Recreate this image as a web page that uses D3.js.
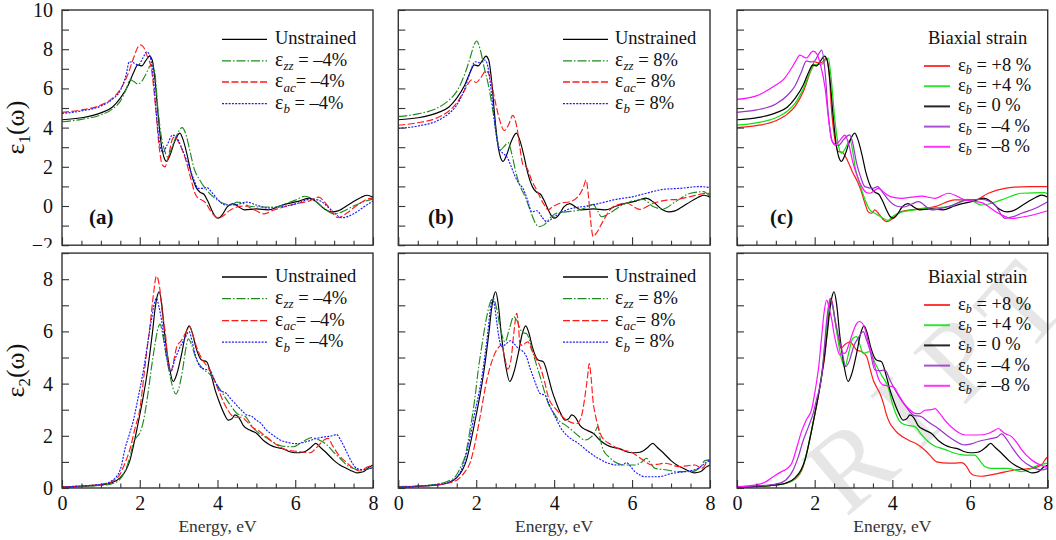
<!DOCTYPE html>
<html>
<head>
<meta charset="utf-8">
<script src="https://cdn.jsdelivr.net/npm/d3@7"></script>
<style>
  body { margin: 0; background: #fff; }
  svg { display: block; }
  text { font-family: "Liberation Serif", "Times New Roman", serif; }
</style>
</head>
<body>
<svg id="chart" width="1056" height="540"></svg>
<script>
// ---------- axis ticks ----------
const energyMajor = [0, 2, 4, 6, 8];
const eps1Labels = [-2, 0, 2, 4, 6, 8, 10];
const eps2Labels = [0, 2, 4, 6, 8];

// ---------- real part ε1(ω), [energy eV, value] ----------
const eps1_unstrained = [[0,4.40],[0.5,4.50],[1.0,4.75],[1.3,5.05],[1.5,5.5],[1.7,6.15],[1.85,6.85],[1.95,7.2],[2.05,7.15],[2.15,7.4],[2.25,7.65],[2.32,7.45],[2.4,6.3],[2.47,4.7],[2.55,3.2],[2.62,2.5],[2.69,2.28],[2.78,2.6],[2.9,3.3],[3.03,3.72],[3.12,3.35],[3.22,2.6],[3.32,1.7],[3.45,0.95],[3.55,0.7],[3.65,0.6],[3.75,0.25],[3.85,-0.2],[3.95,-0.55],[4.02,-0.62],[4.12,-0.45],[4.25,-0.05],[4.4,0.12],[4.55,-0.05],[4.7,-0.2],[5.0,-0.15],[5.3,-0.2],[5.6,0.0],[5.8,0.12],[6.1,0.25],[6.35,0.4],[6.55,0.2],[6.75,-0.15],[6.95,-0.3],[7.1,-0.25],[7.4,0.1],[7.7,0.45],[7.85,0.55],[8.0,0.45]];
const eps1_zz_m4 = [[0,4.30],[0.5,4.42],[1.0,4.65],[1.3,4.95],[1.5,5.35],[1.65,5.95],[1.75,6.45],[1.85,6.35],[1.95,6.22],[2.05,6.35],[2.15,6.7],[2.3,7.2],[2.38,6.9],[2.47,4.9],[2.55,3.6],[2.63,2.9],[2.72,2.5],[2.82,2.95],[2.95,3.6],[3.09,4.0],[3.18,3.7],[3.28,2.9],[3.4,1.9],[3.55,1.3],[3.72,0.82],[3.9,0.45],[4.0,0.3],[4.2,0.1],[4.35,0.05],[4.5,0.2],[4.6,0.18],[4.8,0.0],[5.1,-0.05],[5.5,-0.05],[5.8,0.15],[6.0,0.3],[6.25,0.5],[6.45,0.35],[6.7,-0.05],[7.0,-0.4],[7.2,-0.3],[7.5,0.0],[7.8,0.25],[8.0,0.35]];
const eps1_ac_m4 = [[0,4.78],[0.5,4.9],[1.0,5.15],[1.3,5.5],[1.5,5.95],[1.7,6.75],[1.85,7.6],[1.95,8.1],[2.02,8.22],[2.1,8.1],[2.2,7.6],[2.3,7.0],[2.4,5.2],[2.5,3.0],[2.58,2.1],[2.65,2.0],[2.72,2.4],[2.85,3.45],[2.9,3.52],[3.0,3.25],[3.16,2.5],[3.3,1.5],[3.42,0.65],[3.5,0.4],[3.6,0.3],[3.7,0.15],[3.82,-0.25],[3.93,-0.5],[4.02,-0.62],[4.15,-0.5],[4.3,-0.25],[4.5,-0.05],[4.7,0.0],[4.95,-0.2],[5.2,-0.4],[5.45,-0.2],[5.8,0.0],[6.1,0.15],[6.35,0.25],[6.6,0.45],[6.8,0.1],[7.0,-0.45],[7.1,-0.6],[7.3,-0.4],[7.6,0.05],[7.85,0.35],[8.0,0.4]];
const eps1_b_m4 = [[0,4.72],[0.5,4.85],[1.0,5.1],[1.3,5.45],[1.5,5.9],[1.65,6.7],[1.73,7.36],[1.85,7.3],[1.96,7.19],[2.08,7.55],[2.18,7.87],[2.27,7.6],[2.36,6.3],[2.45,4.2],[2.53,3.0],[2.6,2.75],[2.7,3.1],[2.85,3.62],[2.95,3.5],[3.1,2.85],[3.25,2.1],[3.4,1.3],[3.5,0.9],[3.63,0.9],[3.72,0.95],[3.85,0.7],[4.0,0.35],[4.2,0.05],[4.45,0.05],[4.75,0.2],[5.0,0.05],[5.3,-0.1],[5.6,-0.05],[6.0,0.1],[6.4,0.35],[6.6,0.3],[6.9,-0.15],[7.2,-0.6],[7.5,-0.4],[7.8,0.0],[8.0,0.25]];
const eps1_zz_p8 = [[0,4.56],[0.5,4.7],[1.0,5.0],[1.3,5.4],[1.5,5.85],[1.7,6.7],[1.85,7.6],[1.95,8.25],[2.01,8.42],[2.1,8.0],[2.2,7.1],[2.32,6.1],[2.45,4.56],[2.55,3.3],[2.62,2.86],[2.72,3.05],[2.82,3.23],[2.92,2.6],[3.02,1.7],[3.13,1.0],[3.25,0.5],[3.4,-0.3],[3.5,-0.8],[3.6,-1.05],[3.75,-0.95],[3.9,-0.6],[4.06,-0.37],[4.3,-0.3],[4.66,-0.2],[4.9,0.0],[5.0,0.08],[5.1,-0.2],[5.22,-0.55],[5.4,-0.4],[5.7,0.0],[5.95,0.22],[6.29,0.34],[6.54,-0.03],[6.8,-0.15],[7.1,0.2],[7.5,0.65],[7.83,0.73],[8.0,0.48]];
const eps1_ac_p8 = [[0,4.12],[0.5,4.25],[1.0,4.5],[1.3,4.85],[1.5,5.25],[1.7,5.9],[1.88,6.43],[2.0,6.3],[2.1,6.5],[2.25,6.89],[2.35,6.6],[2.48,5.4],[2.6,4.4],[2.72,3.85],[2.82,4.1],[2.94,4.62],[3.04,4.05],[3.12,3.0],[3.2,2.1],[3.3,1.95],[3.42,1.33],[3.55,0.82],[3.72,0.14],[3.85,-0.2],[3.95,-0.05],[4.15,0.14],[4.4,0.22],[4.6,0.45],[4.75,0.95],[4.82,1.33],[4.88,0.5],[4.95,-1.0],[5.0,-1.56],[5.08,-1.4],[5.18,-1.05],[5.35,-0.45],[5.52,-0.03],[5.86,0.14],[6.2,-0.17],[6.54,0.14],[6.89,0.3],[7.2,0.35],[7.49,0.48],[7.96,0.65],[8.0,0.6]];
const eps1_b_p8 = [[0,3.96],[0.5,4.08],[1.0,4.35],[1.3,4.72],[1.5,5.15],[1.7,5.95],[1.85,6.85],[1.97,7.36],[2.1,7.3],[2.22,7.45],[2.3,7.1],[2.4,5.6],[2.5,3.8],[2.58,2.94],[2.68,2.7],[2.79,2.5],[2.9,2.0],[3.0,1.5],[3.09,1.16],[3.2,0.9],[3.3,0.4],[3.43,-0.3],[3.56,-0.24],[3.7,-0.6],[3.81,-0.8],[4.0,-0.55],[4.32,-0.2],[4.83,0.0],[5.2,0.15],[5.52,0.31],[6.03,0.48],[6.37,0.65],[6.8,0.85],[7.23,0.9],[7.74,0.99],[8.0,0.94]];
const eps1_bi_p8 = [[0,4.0],[0.5,4.1],[1.0,4.35],[1.3,4.7],[1.5,5.1],[1.7,5.8],[1.9,6.9],[2.0,7.36],[2.1,7.3],[2.2,7.35],[2.3,7.53],[2.37,6.8],[2.44,4.73],[2.52,3.4],[2.61,2.77],[2.7,2.75],[2.85,2.3],[2.97,1.75],[3.1,1.25],[3.2,0.75],[3.3,0.1],[3.38,-0.3],[3.46,-0.37],[3.55,-0.2],[3.65,-0.4],[3.77,-0.7],[3.85,-0.8],[4.02,-0.63],[4.2,-0.3],[4.58,-0.17],[5.1,-0.03],[5.61,0.31],[6.13,0.31],[6.47,0.65],[6.9,0.9],[7.5,0.99],[8.0,0.99]];
const eps1_bi_p4 = [[0,4.13],[0.5,4.24],[1.0,4.5],[1.3,4.85],[1.5,5.25],[1.7,5.95],[1.9,6.9],[2.0,7.2],[2.1,7.22],[2.2,7.25],[2.3,7.5],[2.35,7.55],[2.42,6.6],[2.52,4.39],[2.6,3.2],[2.69,2.69],[2.78,2.9],[2.91,3.36],[2.98,2.8],[3.04,2.0],[3.12,1.4],[3.21,0.82],[3.32,0.2],[3.42,-0.2],[3.55,-0.37],[3.7,-0.55],[3.89,-0.73],[4.0,-0.55],[4.2,-0.34],[4.58,-0.2],[5.0,-0.1],[5.44,-0.03],[5.95,0.34],[6.3,0.05],[6.81,0.31],[7.33,0.65],[7.93,0.68],[8.0,0.6]];
const eps1_bi_m4 = [[0,4.78],[0.5,4.9],[1.0,5.2],[1.3,5.65],[1.5,6.15],[1.65,6.8],[1.79,7.4],[1.9,7.35],[2.0,7.4],[2.1,7.75],[2.18,7.95],[2.27,6.8],[2.35,4.7],[2.45,3.3],[2.61,3.09],[2.75,3.4],[2.9,3.63],[2.97,3.3],[3.08,2.18],[3.18,1.5],[3.29,0.99],[3.5,0.9],[3.62,0.99],[3.75,0.7],[3.9,0.31],[4.1,0.0],[4.3,-0.05],[4.5,0.1],[4.67,0.22],[5.01,-0.2],[5.44,-0.03],[5.95,0.31],[6.3,0.34],[6.64,0.05],[6.9,-0.63],[7.1,-0.55],[7.33,-0.37],[7.7,-0.1],[8.0,0.22]];
const eps1_bi_m8 = [[0,5.44],[0.5,5.62],[1.0,6.17],[1.2,6.46],[1.4,7.02],[1.5,7.35],[1.62,7.7],[1.78,7.55],[1.96,7.9],[2.06,7.75],[2.15,7.2],[2.27,6.0],[2.35,4.56],[2.44,3.37],[2.52,3.11],[2.65,3.35],[2.78,3.62],[2.87,3.2],[2.99,2.18],[3.1,1.5],[3.21,1.0],[3.32,0.7],[3.42,0.65],[3.55,0.8],[3.64,0.9],[3.81,0.65],[3.95,0.48],[4.24,0.39],[4.5,0.45],[4.75,0.5],[5.1,0.39],[5.44,0.65],[5.87,0.31],[6.3,0.17],[6.73,-0.37],[7.07,-0.63],[7.5,-0.51],[8.0,-0.24]];

// ---------- imaginary part ε2(ω), [energy eV, value] ----------
const eps2_unstrained = [[0,0.03],[0.5,0.06],[1.0,0.12],[1.25,0.18],[1.5,0.4],[1.65,0.7],[1.75,1.07],[1.85,1.7],[1.92,2.2],[2.0,2.8],[2.09,3.5],[2.18,4.3],[2.26,5.16],[2.33,6.0],[2.39,6.82],[2.45,7.35],[2.5,7.52],[2.56,7.1],[2.65,5.8],[2.76,4.65],[2.86,4.08],[2.96,4.4],[3.08,5.16],[3.18,5.9],[3.27,6.21],[3.35,5.95],[3.44,5.41],[3.59,4.9],[3.72,4.84],[3.85,4.26],[3.95,3.7],[4.06,3.24],[4.17,2.85],[4.28,2.6],[4.37,2.65],[4.45,2.8],[4.55,2.7],[4.66,2.4],[4.83,2.22],[5.0,2.1],[5.2,1.8],[5.35,1.65],[5.52,1.55],[5.69,1.5],[5.86,1.39],[6.0,1.35],[6.2,1.37],[6.4,1.55],[6.53,1.71],[6.65,1.55],[6.8,1.35],[7.0,1.05],[7.15,0.88],[7.32,0.75],[7.49,0.63],[7.6,0.58],[7.75,0.62],[7.9,0.8],[8.0,0.88]];
const eps2_zz_m4 = [[0,0.03],[0.5,0.06],[1.0,0.1],[1.25,0.15],[1.5,0.35],[1.65,0.75],[1.75,1.2],[1.85,1.8],[1.92,1.95],[2.0,2.1],[2.1,2.6],[2.2,3.5],[2.3,4.6],[2.38,5.4],[2.45,6.0],[2.52,6.28],[2.6,5.8],[2.69,5.0],[2.8,4.15],[2.93,3.6],[3.0,3.8],[3.1,4.5],[3.18,5.3],[3.25,5.72],[3.33,5.5],[3.42,5.07],[3.59,4.62],[3.8,4.36],[4.06,3.79],[4.32,3.2],[4.53,2.83],[4.7,2.76],[4.92,2.3],[5.26,1.92],[5.69,1.6],[5.95,1.58],[6.2,1.78],[6.42,1.93],[6.6,1.85],[6.8,1.67],[7.0,1.35],[7.15,1.14],[7.35,0.85],[7.5,0.75],[7.66,0.69],[7.85,0.73],[8.0,0.78]];
const eps2_ac_m4 = [[0,0.04],[0.5,0.08],[1.0,0.14],[1.25,0.22],[1.5,0.55],[1.62,0.95],[1.75,1.5],[1.88,2.3],[2.0,3.0],[2.1,4.2],[2.18,5.22],[2.27,6.3],[2.35,7.39],[2.43,8.12],[2.52,7.59],[2.58,6.7],[2.65,6.05],[2.72,5.0],[2.8,4.46],[2.87,4.85],[2.95,5.4],[3.08,5.67],[3.18,5.95],[3.29,6.18],[3.37,5.85],[3.46,5.41],[3.58,5.0],[3.68,4.77],[3.8,4.52],[3.93,4.1],[4.06,3.62],[4.17,3.25],[4.27,2.97],[4.45,2.71],[4.62,2.71],[4.75,2.55],[4.92,2.3],[5.05,2.2],[5.18,2.05],[5.35,1.85],[5.52,1.66],[5.7,1.5],[5.86,1.43],[6.05,1.4],[6.2,1.38],[6.38,1.35],[6.55,1.55],[6.75,1.85],[6.85,1.9],[6.95,1.65],[7.1,1.3],[7.3,1.0],[7.5,0.75],[7.65,0.65],[7.85,0.8],[8.0,0.88]];
const eps2_b_m4 = [[0,0.04],[0.5,0.08],[1.0,0.14],[1.25,0.25],[1.5,0.7],[1.62,1.5],[1.72,2.0],[1.83,2.55],[1.95,3.4],[2.09,4.47],[2.2,5.5],[2.3,6.44],[2.38,7.1],[2.43,7.27],[2.5,6.9],[2.56,6.44],[2.64,5.5],[2.72,4.8],[2.8,4.46],[2.9,4.9],[3.02,5.35],[3.15,5.7],[3.27,5.99],[3.35,5.6],[3.42,5.16],[3.55,4.65],[3.68,4.55],[3.8,4.52],[3.93,4.1],[4.06,3.75],[4.23,3.62],[4.35,3.4],[4.45,3.24],[4.6,3.0],[4.75,2.8],[4.88,2.75],[5.0,2.6],[5.1,2.5],[5.26,2.22],[5.45,2.0],[5.61,1.84],[5.8,1.75],[6.03,1.7],[6.3,1.78],[6.55,1.9],[6.8,1.97],[6.95,2.0],[7.06,2.05],[7.18,1.8],[7.32,1.39],[7.45,1.0],[7.58,0.75],[7.75,0.7],[8.0,0.78]];
const eps2_zz_p8 = [[0,0.05],[0.5,0.08],[1.0,0.15],[1.25,0.25],[1.46,0.43],[1.6,0.8],[1.71,1.2],[1.84,2.22],[1.97,3.49],[2.05,4.5],[2.14,5.41],[2.27,6.56],[2.35,7.07],[2.44,7.27],[2.52,6.9],[2.61,6.18],[2.74,5.6],[2.85,6.1],[2.96,6.56],[3.05,6.4],[3.12,6.12],[3.2,5.95],[3.29,5.92],[3.38,5.6],[3.46,5.16],[3.55,4.7],[3.64,4.27],[3.75,3.7],[3.85,3.24],[4.0,2.85],[4.11,2.6],[4.3,2.4],[4.45,2.22],[4.62,2.0],[4.79,1.84],[4.96,1.97],[5.05,2.15],[5.12,2.35],[5.18,1.9],[5.26,1.46],[5.4,1.2],[5.56,1.0],[5.82,0.88],[6.07,0.88],[6.25,1.0],[6.37,1.14],[6.47,0.95],[6.59,0.75],[6.85,0.7],[7.19,0.63],[7.53,0.63],[7.75,0.8],[7.87,1.05],[8.0,1.08]];
const eps2_ac_p8 = [[0,0.03],[0.5,0.06],[1.0,0.12],[1.25,0.18],[1.5,0.3],[1.7,0.6],[1.85,1.0],[1.97,1.71],[2.1,2.73],[2.27,4.13],[2.38,4.75],[2.48,5.16],[2.58,5.4],[2.65,5.48],[2.73,5.0],[2.81,4.55],[2.9,5.0],[2.97,6.0],[3.04,6.69],[3.08,6.3],[3.12,5.54],[3.2,5.45],[3.25,5.54],[3.33,5.6],[3.42,5.3],[3.51,5.03],[3.64,4.65],[3.75,4.1],[3.85,3.49],[4.07,2.98],[4.32,2.6],[4.58,2.47],[4.7,2.75],[4.78,3.4],[4.86,4.3],[4.9,4.77],[4.95,4.2],[5.0,3.3],[5.05,2.85],[5.14,2.3],[5.22,1.97],[5.48,1.65],[5.73,1.46],[5.95,1.39],[6.16,1.2],[6.35,1.0],[6.5,0.88],[6.7,0.92],[6.85,0.95],[7.0,0.9],[7.19,0.82],[7.4,0.85],[7.62,0.88],[7.79,0.75],[7.96,1.02],[8.0,1.0]];
const eps2_b_p8 = [[0,0.04],[0.5,0.07],[1.0,0.13],[1.25,0.2],[1.5,0.4],[1.71,1.1],[1.85,2.0],[1.95,2.8],[2.05,3.49],[2.15,4.3],[2.23,5.16],[2.3,6.0],[2.35,6.7],[2.42,7.22],[2.48,6.9],[2.52,6.44],[2.58,5.8],[2.65,5.41],[2.75,5.5],[2.87,5.64],[2.96,5.55],[3.04,5.41],[3.12,5.3],[3.21,5.22],[3.29,5.03],[3.38,4.6],[3.46,4.27],[3.55,3.9],[3.64,3.62],[3.77,3.55],[3.86,3.25],[3.94,2.98],[4.05,2.65],[4.15,2.35],[4.36,1.97],[4.62,1.71],[4.88,1.39],[5.13,1.14],[5.39,0.95],[5.6,0.88],[5.73,0.88],[5.86,0.97],[5.95,0.85],[6.07,0.63],[6.2,0.5],[6.33,0.43],[6.67,0.43],[7.02,0.56],[7.36,0.63],[7.7,0.75],[7.87,0.95],[8.0,1.08]];
const eps2_bi_p8 = [[0,0.03],[0.5,0.06],[1.0,0.12],[1.25,0.18],[1.5,0.35],[1.7,0.8],[1.82,1.5],[1.92,2.22],[2.0,2.8],[2.09,3.49],[2.18,4.3],[2.27,5.16],[2.33,6.2],[2.37,6.82],[2.42,7.27],[2.47,7.0],[2.52,6.44],[2.6,5.8],[2.68,5.35],[2.78,5.5],[2.91,5.6],[3.0,5.45],[3.08,5.29],[3.21,5.22],[3.34,5.03],[3.42,4.6],[3.51,4.13],[3.6,3.85],[3.68,3.62],[3.77,3.24],[3.85,2.8],[3.94,2.47],[4.05,2.25],[4.15,2.09],[4.41,1.84],[4.67,1.65],[4.88,1.39],[5.0,1.2],[5.14,1.0],[5.44,0.95],[5.6,0.95],[5.78,0.97],[5.9,0.85],[6.0,0.6],[6.08,0.5],[6.3,0.45],[6.73,0.56],[7.15,0.69],[7.58,0.75],[7.84,0.88],[7.93,1.08],[8.0,1.2]];
const eps2_bi_p4 = [[0,0.03],[0.5,0.06],[1.0,0.12],[1.25,0.18],[1.5,0.35],[1.7,0.85],[1.82,1.5],[1.92,2.2],[2.0,2.8],[2.1,3.6],[2.2,4.6],[2.3,6.0],[2.35,6.7],[2.4,7.2],[2.47,6.9],[2.56,6.05],[2.68,5.0],[2.78,4.65],[2.88,5.2],[2.98,5.73],[3.08,5.8],[3.16,5.5],[3.25,5.16],[3.34,5.2],[3.42,5.22],[3.55,4.8],[3.72,4.33],[3.9,3.82],[3.98,3.35],[4.07,2.92],[4.24,2.48],[4.4,2.4],[4.58,2.35],[4.75,2.05],[4.92,1.78],[5.1,1.6],[5.27,1.52],[5.45,1.42],[5.61,1.33],[5.8,1.27],[5.95,1.26],[6.12,1.26],[6.25,1.05],[6.38,0.82],[6.55,0.75],[6.73,0.75],[6.98,0.75],[7.15,0.69],[7.33,0.63],[7.5,0.7],[7.67,0.82],[8.0,0.95]];
const eps2_bi_m4 = [[0,0.04],[0.5,0.08],[1.0,0.15],[1.25,0.3],[1.45,0.7],[1.58,1.2],[1.7,1.8],[1.84,2.35],[1.95,2.8],[2.05,3.4],[2.18,4.27],[2.25,5.4],[2.31,6.44],[2.36,7.0],[2.4,7.27],[2.46,7.0],[2.52,6.5],[2.6,5.9],[2.69,5.35],[2.8,4.65],[2.9,4.9],[3.0,5.41],[3.12,5.75],[3.25,5.99],[3.33,5.7],[3.42,5.29],[3.55,4.52],[3.68,4.5],[3.81,4.52],[3.94,4.13],[4.15,3.55],[4.36,3.1],[4.54,2.79],[4.75,2.73],[4.92,2.54],[5.18,2.28],[5.52,1.9],[5.87,1.65],[6.05,1.7],[6.21,1.78],[6.56,1.9],[6.7,1.95],[6.81,2.07],[6.95,1.85],[7.07,1.58],[7.33,1.08],[7.58,0.82],[7.84,0.69],[8.0,0.75]];
const eps2_bi_m8 = [[0,0.05],[0.5,0.12],[0.72,0.22],[0.9,0.4],[1.0,0.5],[1.15,0.63],[1.3,0.75],[1.41,0.95],[1.55,1.6],[1.66,2.16],[1.78,2.6],[1.92,3.0],[2.02,3.8],[2.1,4.6],[2.18,5.8],[2.24,6.7],[2.31,7.2],[2.37,6.9],[2.44,6.44],[2.5,5.9],[2.56,5.48],[2.65,5.09],[2.72,5.18],[2.78,5.16],[2.88,5.5],[2.98,5.95],[3.08,6.3],[3.16,6.38],[3.29,6.12],[3.38,5.6],[3.46,5.16],[3.56,4.6],[3.64,4.2],[3.77,3.94],[3.95,3.9],[4.05,3.85],[4.15,3.6],[4.32,3.2],[4.45,3.0],[4.58,2.86],[4.7,2.85],[4.84,2.98],[5.0,3.0],[5.1,3.04],[5.2,2.9],[5.35,2.6],[5.61,2.22],[5.87,2.03],[6.21,2.03],[6.47,2.09],[6.6,2.18],[6.73,2.28],[6.82,2.18],[6.9,2.09],[7.07,1.97],[7.2,1.75],[7.33,1.46],[7.58,1.08],[7.93,0.82],[8.0,0.8]];

// ---------- legend texts: [symbol, subscript, remainder] ----------
const legendUniaxialNeg = [["Unstrained"], ["ε", "zz", " = –4%"], ["ε", "ac", "= –4%"], ["ε", "b", " = –4%"]];
const legendUniaxialPos = [["Unstrained"], ["ε", "zz", " = 8%"], ["ε", "ac", "= 8%"], ["ε", "b", " = 8%"]];
const legendBiaxial = [["ε", "b", " = +8 %"], ["ε", "b", " = +4 %"], ["ε", "b", " = 0 %"], ["ε", "b", " = –4 %"], ["ε", "b", " = –8 %"]];
const biaxialTitle = "Biaxial strain";
const panelTags = ["(a)", "(b)", "(c)"];
const xTitle = "Energy, eV";

// ---------- styles ----------
const styles = {
  unstrained: { color: "#000000", dash: null,          width: 1.15 },
  zz:         { color: "#1f8a1f", dash: "9,2,1.5,2",   width: 1.15 },
  ac:         { color: "#ff1a1a", dash: "7,2.5",       width: 1.15 },
  b:          { color: "#1a1aff", dash: "2,1.3",       width: 1.15 },
  bp8:        { color: "#ff1a1a", dash: null,          width: 1.2 },
  bp4:        { color: "#10e010", dash: null,          width: 1.2 },
  b0:         { color: "#000000", dash: null,          width: 1.2 },
  bm4:        { color: "#9a32cd", dash: null,          width: 1.2 },
  bm8:        { color: "#ff10ff", dash: null,          width: 1.2 }
};

// ---------- layout ----------
const svg = d3.select("#chart");
const cols = [{ x0: 62, x1: 373 }, { x0: 398.3, x1: 710 }, { x0: 737, x1: 1047.7 }];
const rows = [
  { yt: 10, yb: 245.2, domain: [-2, 10], labels: eps1Labels, sub: "1", legendY: [39.3, 60.8, 82, 103.6], titleY: 44 },
  { yt: 253.1, yb: 488, domain: [0, 9], labels: eps2Labels, sub: "2", legendY: [277, 298.6, 320.6, 342.2], titleY: 283 }
];
const legendX = [
  { l0: 222, l1: 267, tx: 275 },
  { l0: 563, l1: 608, tx: 615 },
  { l0: 924, l1: 950, tx: 958, titleX: 928 }
];
const tagX = [89, 428, 770];

const panels = [
  { col: 0, row: 0, series: [[eps1_unstrained,"unstrained"],[eps1_zz_m4,"zz"],[eps1_ac_m4,"ac"],[eps1_b_m4,"b"]], legend: legendUniaxialNeg, keys: ["unstrained","zz","ac","b"] },
  { col: 1, row: 0, series: [[eps1_unstrained,"unstrained"],[eps1_zz_p8,"zz"],[eps1_ac_p8,"ac"],[eps1_b_p8,"b"]], legend: legendUniaxialPos, keys: ["unstrained","zz","ac","b"] },
  { col: 2, row: 0, series: [[eps1_bi_p8,"bp8"],[eps1_bi_p4,"bp4"],[eps1_unstrained,"b0"],[eps1_bi_m4,"bm4"],[eps1_bi_m8,"bm8"]], legend: legendBiaxial, keys: ["bp8","bp4","b0","bm4","bm8"] },
  { col: 0, row: 1, series: [[eps2_unstrained,"unstrained"],[eps2_zz_m4,"zz"],[eps2_ac_m4,"ac"],[eps2_b_m4,"b"]], legend: legendUniaxialNeg, keys: ["unstrained","zz","ac","b"] },
  { col: 1, row: 1, series: [[eps2_unstrained,"unstrained"],[eps2_zz_p8,"zz"],[eps2_ac_p8,"ac"],[eps2_b_p8,"b"]], legend: legendUniaxialPos, keys: ["unstrained","zz","ac","b"] },
  { col: 2, row: 1, series: [[eps2_bi_p8,"bp8"],[eps2_bi_p4,"bp4"],[eps2_unstrained,"b0"],[eps2_bi_m4,"bm4"],[eps2_bi_m8,"bm8"]], legend: legendBiaxial, keys: ["bp8","bp4","b0","bm4","bm8"] }
];

const FRAME = "#333";
const fmt = d3.format("d");

function styleAxis(a, size) {
  a.select(".domain").remove();
  a.attr("font-family", null).attr("font-size", null);
  a.selectAll(".tick line").attr("stroke", FRAME).attr("stroke-width", 1.1);
  a.selectAll(".tick text")
    .attr("font-family", "'Liberation Serif', 'Times New Roman', serif")
    .attr("font-size", size).attr("fill", "#111");
}

// symbol + italic subscript + remainder (plain text when there is no subscript)
function writeLabel(t, parts, symSize, subSize, subShift) {
  if (parts.length === 1) { t.text(parts[0]); return; }
  t.append("tspan").attr("font-size", symSize).text(parts[0]);
  t.append("tspan").attr("font-style", "italic").attr("font-size", subSize).attr("dy", subShift).text(parts[1]);
  t.append("tspan").attr("dy", -subShift).text(parts[2]);
}

function drawPanel(p, layer) {
  const c = cols[p.col], r = rows[p.row];
  const x = d3.scaleLinear().domain([0, 8]).range([c.x0, c.x1]);
  const y = d3.scaleLinear().domain(r.domain).range([r.yb, r.yt]);
  const g = layer.append("g");
  const clipId = `clip-${p.col}-${p.row}`;
  g.append("clipPath").attr("id", clipId).append("rect")
    .attr("x", c.x0).attr("y", r.yt).attr("width", c.x1 - c.x0).attr("height", r.yb - r.yt);

  // curves
  const line = d3.line().x(d => x(d[0])).y(d => y(d[1])).curve(d3.curveMonotoneX);
  const curves = g.append("g").attr("clip-path", `url(#${clipId})`);
  p.series.forEach(([data, key]) => {
    const s = styles[key];
    curves.append("path").datum(data).attr("d", line)
      .attr("fill", "none").attr("stroke", s.color).attr("stroke-width", s.width)
      .attr("stroke-dasharray", s.dash).attr("stroke-linejoin", "round");
  });

  // x axis: major ticks (labelled on the bottom row) and minor ticks every 0.5 eV
  const minorX = d3.range(0, 8.01, 0.5).filter(v => !energyMajor.includes(v));
  g.append("g").attr("transform", `translate(0,${r.yb})`)
    .call(d3.axisBottom(x).tickValues(energyMajor).tickSize(-8).tickPadding(8)
      .tickFormat(v => p.row === 1 ? fmt(v) : ""))
    .call(a => styleAxis(a, 20));
  g.append("g").attr("transform", `translate(0,${r.yb})`)
    .call(d3.axisBottom(x).tickValues(minorX).tickSize(-4.5).tickFormat(() => ""))
    .call(a => styleAxis(a, 20));

  // y axis: ticks every unit, labels only on the left column
  const yTicks = d3.range(r.domain[0], r.domain[1] + 0.01, 1);
  g.append("g").attr("transform", `translate(${c.x0},0)`)
    .call(d3.axisLeft(y).tickValues(yTicks).tickSize(-7).tickPadding(9)
      .tickFormat(v => (p.col === 0 && r.labels.includes(v)) ? fmt(v) : ""))
    .call(a => styleAxis(a, 20));

  // frame
  g.append("rect").attr("x", c.x0).attr("y", r.yt).attr("width", c.x1 - c.x0).attr("height", r.yb - r.yt)
    .attr("fill", "none").attr("stroke", FRAME).attr("stroke-width", 1.4);

  // legend
  const lx = legendX[p.col];
  const biaxial = p.col === 2;
  if (biaxial) {
    g.append("text").attr("x", lx.titleX).attr("y", r.titleY)
      .attr("font-size", 18.5).attr("fill", "#111").text(biaxialTitle);
  }
  const ys = biaxial ? d3.range(5).map(i => r.titleY + 22 + i * 20.2) : r.legendY;
  p.legend.forEach((parts, i) => {
    const s = styles[p.keys[i]];
    g.append("line").attr("x1", lx.l0).attr("x2", lx.l1).attr("y1", ys[i]).attr("y2", ys[i])
      .attr("stroke", s.color).attr("stroke-width", biaxial ? 2 : 1.3)
      .attr("stroke-opacity", biaxial ? 0.85 : 1)
      .attr("stroke-dasharray", s.dash);
    const t = g.append("text").attr("x", lx.tx).attr("y", ys[i] + 5)
      .attr("font-size", 18.5).attr("fill", "#111");
    if (biaxial) writeLabel(t, parts, 18.5, 12, 3);
    else writeLabel(t, parts, 20, 13, 4.5);
  });

  // panel tag and axis titles
  if (p.row === 0) {
    g.append("text").attr("x", tagX[p.col]).attr("y", 224)
      .attr("font-size", 21).attr("font-weight", "bold").attr("fill", "#111").text(panelTags[p.col]);
  } else {
    g.append("text").attr("x", (c.x0 + c.x1) / 2).attr("y", 532).attr("text-anchor", "middle")
      .attr("font-size", 17.5).attr("fill", "#333").text(xTitle);
  }
  if (p.col === 0) {
    const t = g.append("text")
      .attr("transform", `translate(23.5,${(r.yt + r.yb) / 2}) rotate(-90)`)
      .attr("text-anchor", "middle").attr("font-size", 26).attr("fill", "#111");
    t.append("tspan").text("ε");
    t.append("tspan").attr("font-size", 17).attr("dy", 6).text(r.sub);
    t.append("tspan").attr("dy", -6).text("(ω)");
  }
}

svg.append("rect").attr("width", 1056).attr("height", 540).attr("fill", "#fff");
const topLayer = svg.append("g");
panels.filter(p => p.row === 0).forEach(p => drawPanel(p, topLayer));

// lower row sits on its own white sheet
svg.append("rect").attr("x", 0).attr("y", 248).attr("width", 1056).attr("height", 292).attr("fill", "#fff");

// faint stamp lettering behind the lower row
const stampLetters = ["R", "I", "P", "T"];
const stampPos = [[850, 465, -40], [905, 412, -43], [958, 358, -45], [1020, 306, -48]];
const stamp = svg.append("g").attr("fill", "#e6e6e6").attr("font-size", 112);
stampLetters.forEach((ch, i) => {
  const [sx, sy, rot] = stampPos[i];
  stamp.append("text").attr("transform", `translate(${sx},${sy}) rotate(${rot})`)
    .attr("text-anchor", "middle").attr("dominant-baseline", "central").text(ch);
});

const bottomLayer = svg.append("g");
panels.filter(p => p.row === 1).forEach(p => drawPanel(p, bottomLayer));
</script>
</body>
</html>
